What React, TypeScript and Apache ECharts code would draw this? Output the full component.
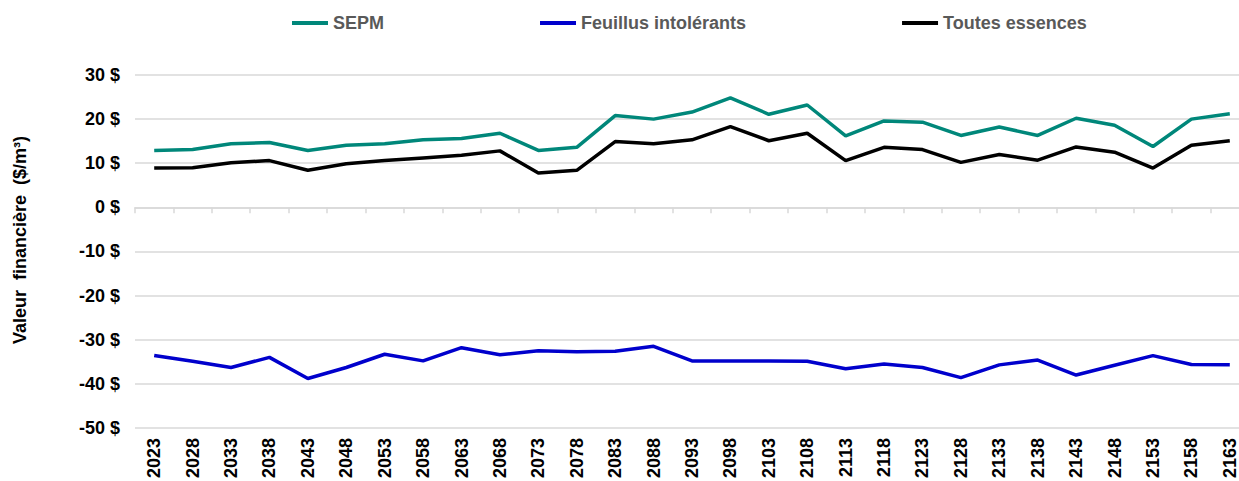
import React, { useEffect, useRef } from "react";
import * as echarts from "echarts";

const years = [
  "2023", "2028", "2033", "2038", "2043", "2048", "2053", "2058", "2063", "2068",
  "2073", "2078", "2083", "2088", "2093", "2098", "2103", "2108", "2113", "2118",
  "2123", "2128", "2133", "2138", "2143", "2148", "2153", "2158", "2163",
];

const sepm = [
  12.9, 13.1, 14.4, 14.7, 12.9, 14.1, 14.4, 15.3, 15.6, 16.8,
  12.9, 13.6, 20.8, 20.0, 21.6, 24.8, 21.1, 23.2, 16.2, 19.6,
  19.3, 16.3, 18.2, 16.3, 20.2, 18.6, 13.8, 20.0, 21.2,
];

const feuillus = [
  -33.6, -34.9, -36.3, -34.0, -38.8, -36.3, -33.3, -34.8, -31.8, -33.4,
  -32.5, -32.7, -32.6, -31.5, -34.8, -34.8, -34.8, -34.9, -36.6, -35.5,
  -36.3, -38.6, -35.7, -34.6, -38.0, -35.8, -33.6, -35.6, -35.7,
];

const toutes = [
  8.9, 9.0, 10.1, 10.6, 8.4, 9.9, 10.6, 11.2, 11.8, 12.8,
  7.8, 8.4, 14.9, 14.4, 15.3, 18.3, 15.1, 16.8, 10.6, 13.6,
  13.1, 10.2, 12.0, 10.7, 13.7, 12.5, 8.9, 14.1, 15.1,
];

const seriesNames = ["SEPM", "Feuillus intolérants", "Toutes essences"];
const seriesColors = ["#00877A", "#0000CC", "#000000"];
const axisTitle = "Valeur  financière  ($/m³)";

const FONT = "'Liberation Sans', Arial, sans-serif";

export default function App() {
  const ref = useRef<HTMLDivElement>(null);

  useEffect(() => {
    const chart = echarts.init(ref.current!, null, { renderer: "svg" });
    const dataSets = [sepm, feuillus, toutes];
    chart.setOption({
      animation: false,
      textStyle: { fontFamily: FONT },
      legend: {
        data: seriesNames,
        left: 292,
        top: 14,
        padding: 0,
        icon: "rect",
        itemWidth: 36,
        itemHeight: 4,
        itemGap: 156,
        textStyle: { fontSize: 18, fontWeight: "bold", color: "#595959", fontFamily: FONT },
      },
      grid: { left: 135, right: 1, top: 75, bottom: 51, containLabel: false },
      graphic: [
        {
          type: "text",
          x: 20,
          y: 240,
          rotation: Math.PI / 2,
          style: {
            text: axisTitle,
            fontSize: 18,
            fontWeight: "bold",
            fontFamily: FONT,
            fill: "#000",
            align: "center",
            verticalAlign: "middle",
          },
        },
      ],
      xAxis: [
        {
          type: "category",
          data: years,
          boundaryGap: true,
          axisLine: { onZero: true, lineStyle: { color: "#d9d9d9", width: 1.5 } },
          axisTick: { show: true, length: 6, lineStyle: { color: "#d9d9d9", width: 1.5 } },
          axisLabel: { show: false },
          splitLine: { show: false },
        },
        {
          type: "category",
          data: years,
          position: "bottom",
          boundaryGap: true,
          axisLine: { show: false, onZero: false },
          axisTick: { show: false },
          splitLine: { show: false },
          axisLabel: {
            rotate: 90,
            fontSize: 18,
            fontWeight: "bold",
            color: "#000",
            margin: 10,
            interval: 0,
            fontFamily: FONT,
          },
        },
      ],
      yAxis: {
        type: "value",
        min: -50,
        max: 30,
        interval: 10,
        axisLine: { show: false },
        axisTick: { show: false },
        splitLine: { lineStyle: { color: "#d9d9d9", width: 1.5 } },
        axisLabel: {
          formatter: (v: number) => `${v} $`,
          fontSize: 18,
          fontWeight: "bold",
          color: "#000",
          margin: 15,
          fontFamily: FONT,
        },
      },
      series: seriesNames.map((name, i) => ({
        name,
        type: "line",
        xAxisIndex: 0,
        data: dataSets[i],
        showSymbol: false,
        symbol: "none",
        color: seriesColors[i],
        lineStyle: { color: seriesColors[i], width: 3.5 },
      })),
    });
    return () => chart.dispose();
  }, []);

  return (
    <div
      style={{
        position: "absolute",
        left: 0,
        top: 0,
        width: 1239,
        height: 481,
        overflow: "hidden",
      }}
    >
      <div ref={ref} style={{ width: 1250, height: 481 }} />
    </div>
  );
}
